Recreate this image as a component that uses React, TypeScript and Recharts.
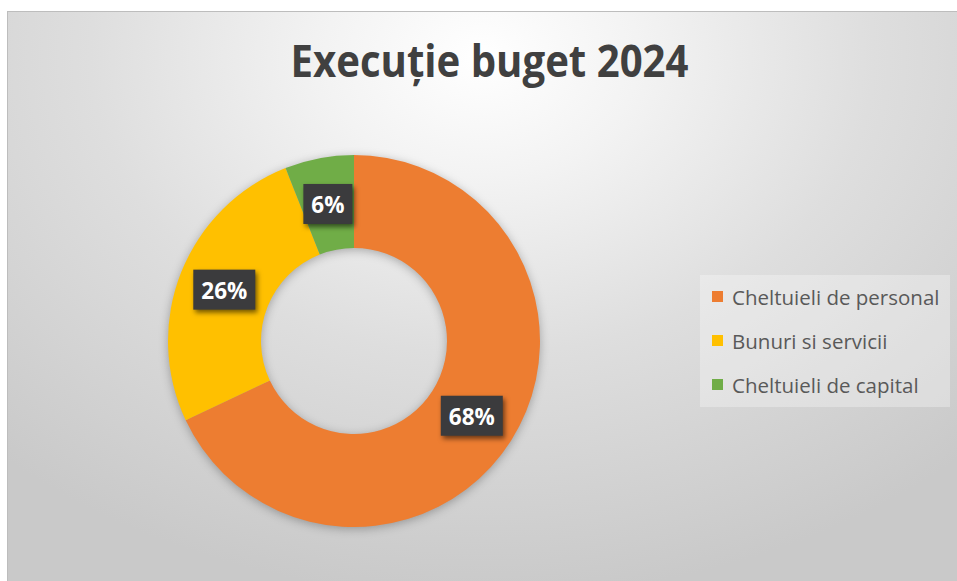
import React from "react";
import { PieChart, Pie, Cell, Legend } from "recharts";

const categories = ["Cheltuieli de personal", "Bunuri si servicii", "Cheltuieli de capital"];
const values = [68, 26, 6];
const colors = ["#ED7D31", "#FFC000", "#70AD47"];
const title = "Execuție buget 2024";

const data = categories.map((name, i) => ({ name, value: values[i] }));
const RAD = Math.PI / 180;

const renderLabel = (props: any) => {
  const { cx, cy, midAngle, innerRadius, outerRadius, percent } = props;
  const r = (innerRadius + outerRadius) / 2;
  const x = cx + r * Math.cos(-midAngle * RAD);
  const y = cy + r * Math.sin(-midAngle * RAD);
  const text = `${Math.round(percent * 100)}%`;
  const w = text.length === 2 ? 49 : 62;
  return (
    <g>
      <rect
        x={x - w / 2}
        y={y - 20}
        width={w}
        height={40}
        fill="#3b3b3d"
        style={{ filter: "drop-shadow(2px 3px 2.5px rgba(0,0,0,0.55))" }}
      />
      <text
        x={x}
        y={y + 1}
        textAnchor="middle"
        dominantBaseline="central"
        fill="#ffffff"
        fontFamily="'Open Sans', sans-serif"
        fontWeight={700}
        fontSize={22.5}
      >
        {text}
      </text>
    </g>
  );
};

const renderLegend = () => {
  return (
    <svg width={250} height={132} style={{ display: "block" }}>
      <rect x={0} y={0} width={250} height={132} fill="rgba(255,255,255,0.3)" />
      {categories.map((name, i) => {
        const cyy = 22 + i * 44;
        return (
          <g key={name}>
            <rect x={12} y={cyy - 6} width={11} height={11} fill={colors[i]} />
            <text
              x={32}
              y={cyy}
              dominantBaseline="central"
              fill="#595959"
              fontFamily="'Open Sans', sans-serif"
              fontSize={20.5}
            >
              {name}
            </text>
          </g>
        );
      })}
    </svg>
  );
};

export default function App() {
  return (
    <div style={{ position: "absolute", left: 0, top: 0, width: 957, height: 581, background: "#ffffff", overflow: "hidden" }}>
      <style>{`.recharts-pie { filter: drop-shadow(0px 2px 5px rgba(0,0,0,0.28)); }`}</style>
      <div
        style={{
          position: "absolute",
          left: 7,
          top: 11,
          width: 950,
          height: 570,
          background:
            "radial-gradient(ellipse 75% 95% at 50% 8%, #ffffff 0%, #f3f3f3 22%, #dedede 55%, #c9c9c9 100%)",
          boxShadow: "inset 1px 1px 0 #bdbdbd",
        }}
      >
        <svg width={950} height={100} style={{ position: "absolute", left: 0, top: 0 }}>
          <text
            x={482.5}
            y={66}
            textAnchor="middle"
            textLength={398}
            lengthAdjust="spacingAndGlyphs"
            fill="#404040"
            fontFamily="'Open Sans', sans-serif"
            fontWeight={700}
            fontSize={44}
          >
            {title}
          </text>
        </svg>
        <div style={{ position: "absolute", left: 0, top: 0 }}>
          <PieChart width={950} height={570} margin={{ top: 0, right: 0, bottom: 0, left: 0 }}>
            <Pie
              data={data}
              dataKey="value"
              nameKey="name"
              cx={347}
              cy={330}
              innerRadius={93}
              outerRadius={186}
              startAngle={90}
              endAngle={-270}
              stroke="none"
              label={renderLabel}
              labelLine={false}
              isAnimationActive={false}
            >
              {data.map((d, i) => (
                <Cell key={d.name} fill={colors[i]} />
              ))}
            </Pie>
            <Legend
              layout="vertical"
              content={renderLegend}
              wrapperStyle={{ left: 693, top: 264, width: 250, height: 132 }}
            />
          </PieChart>
        </div>
      </div>
    </div>
  );
}
